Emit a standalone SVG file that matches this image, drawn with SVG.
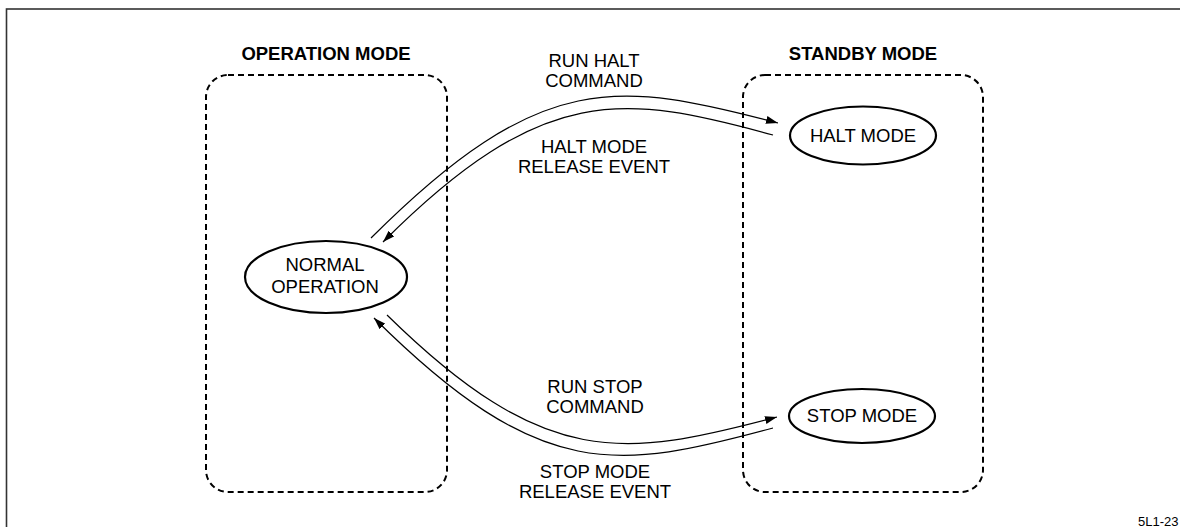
<svg xmlns="http://www.w3.org/2000/svg" width="1180" height="527" viewBox="0 0 1180 527">
<style>
.frame{fill:none;stroke:#333;stroke-width:1.6}
.group{fill:none;stroke:#000;stroke-width:2;stroke-dasharray:6 4}
.node{fill:#fff;stroke:#000;stroke-width:2.2}
.conn{fill:none;stroke:#000;stroke-width:1.2}
.t{font-family:"Liberation Sans",Arial,sans-serif;font-size:18.5px;fill:#000;text-anchor:middle}
.b{font-weight:bold;font-size:18.5px}
.s{font-family:"Liberation Sans",Arial,sans-serif;font-size:13px;fill:#000}
</style>
<defs>
<marker id="ah" viewBox="0 0 12 8" refX="12" refY="4" markerWidth="12" markerHeight="8" markerUnits="userSpaceOnUse" orient="auto">
<path d="M0,0 L12,4 L0,8 Z" fill="#000"/>
</marker>
</defs>
<rect width="1180" height="527" fill="#fff"/>
<rect class="frame" x="6.5" y="9" width="1200" height="600"/>
<g id="operation-mode">
<rect class="group" x="206" y="75" width="241" height="417" rx="22" ry="22"/>
<text class="t b" x="326" y="60">OPERATION MODE</text>
</g>
<g id="standby-mode">
<rect class="group" x="743" y="75" width="240" height="417" rx="22" ry="22"/>
<text class="t b" x="863" y="60">STANDBY MODE</text>
</g>
<g id="connectors">
<path class="conn" d="M371,238 C541,68 618,81 778,123" marker-end="url(#ah)"/>
<path class="conn" d="M773,135 C623,94 543,82 383,242" marker-end="url(#ah)"/>
<path class="conn" d="M387,315 C545,470 623,458 777,417" marker-end="url(#ah)"/>
<path class="conn" d="M773,428 C618,470 541,484 374,318" marker-end="url(#ah)"/>
<text class="t" x="594" y="67">RUN HALT</text>
<text class="t" x="594" y="87">COMMAND</text>
<text class="t" x="594" y="153">HALT MODE</text>
<text class="t" x="594" y="173">RELEASE EVENT</text>
<text class="t" x="595" y="393">RUN STOP</text>
<text class="t" x="595" y="413">COMMAND</text>
<text class="t" x="595" y="478">STOP MODE</text>
<text class="t" x="595" y="498">RELEASE EVENT</text>
</g>
<g id="normal-operation">
<ellipse class="node" cx="326" cy="277" rx="81" ry="36"/>
<text class="t" x="325" y="271">NORMAL</text>
<text class="t" x="325" y="293">OPERATION</text>
</g>
<g id="halt-mode">
<ellipse class="node" cx="863" cy="135.5" rx="73" ry="29"/>
<text class="t" x="863" y="142">HALT MODE</text>
</g>
<g id="stop-mode">
<ellipse class="node" cx="862" cy="416" rx="73" ry="27"/>
<text class="t" x="862" y="422">STOP MODE</text>
</g>
<text class="s" x="1138" y="526">5L1-23</text>
</svg>
